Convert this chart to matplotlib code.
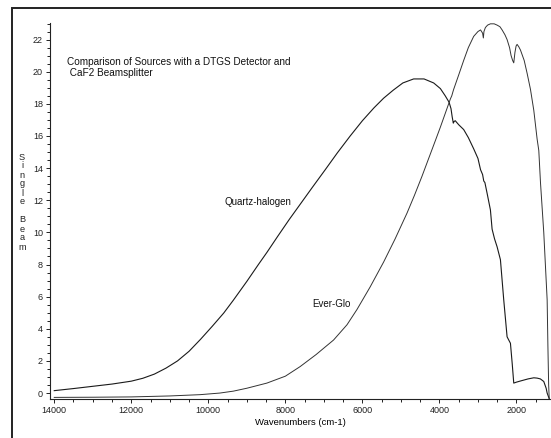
import numpy as np
import matplotlib
matplotlib.use('Agg')
import matplotlib.pyplot as plt
from matplotlib.patches import Rectangle
from matplotlib.ticker import MultipleLocator

plt.rcParams['font.family'] = ['Liberation Sans', 'DejaVu Sans']

# Quartz-halogen single beam (wavenumber, intensity)
qh_wn = [14000, 13500, 13000, 12500, 12000, 11700, 11400, 11100, 10800, 10500,
         10200, 9900, 9600, 9350, 9000, 8700, 8480, 8200, 7900, 7615,
         7300, 6965, 6650, 6317, 6000, 5700, 5450, 5200, 4950, 4670,
         4400, 4150, 3976, 3850, 3750, 3700, 3670, 3640, 3620, 3590,
         3500, 3371, 3250, 3111, 3000, 2933, 2880, 2850, 2820, 2760,
         2677, 2633, 2570, 2503, 2417, 2331, 2244, 2190, 2157, 2110,
         2071, 2000, 1898, 1700, 1550, 1464, 1380, 1292, 1230, 1204, 1150]
qh_sb = [0.15, 0.28, 0.42, 0.56, 0.74, 0.92, 1.18, 1.55, 2.0, 2.6,
         3.35, 4.15, 4.98, 5.78, 6.95, 8.0, 8.75, 9.75, 10.8, 11.75,
         12.8, 13.9, 14.95, 16.0, 16.95, 17.75, 18.35, 18.85, 19.3, 19.55,
         19.55, 19.3, 18.95, 18.5, 18.1, 17.7, 17.2, 16.8, 16.9, 16.95,
         16.7, 16.4, 15.9, 15.2, 14.6, 13.9, 13.6, 13.2, 13.1, 12.4,
         11.4, 10.2, 9.6, 9.1, 8.3, 5.8, 3.5, 3.25, 3.1, 1.8,
         0.62, 0.68, 0.75, 0.88, 0.95, 0.93, 0.88, 0.72, 0.3, 0.0, -0.35]

# Ever-Glo single beam
eg_wn = [14000, 13000, 12000, 11000, 10214, 9700, 9348, 9000, 8480, 8000,
         7615, 7200, 7000, 6749, 6400, 6141, 5800, 5450, 5150, 4842,
         4650, 4452, 4280, 4100, 3976, 3850, 3717, 3680, 3650, 3631,
         3500, 3371, 3250, 3111, 3000, 2933, 2880, 2860, 2845, 2807,
         2750, 2677, 2580, 2503, 2430, 2373, 2300, 2244, 2180, 2140,
         2100, 2071, 2040, 2010, 1984, 1940, 1897, 1800, 1724, 1637,
         1551, 1464, 1421, 1377, 1292, 1204, 1185, 1165, 1150]
eg_sb = [-0.27, -0.26, -0.24, -0.18, -0.1, 0.0, 0.12, 0.3, 0.62, 1.05,
         1.65, 2.4, 2.8, 3.3, 4.25, 5.2, 6.6, 8.15, 9.6, 11.2,
         12.3, 13.5, 14.6, 15.75, 16.55, 17.4, 18.3, 18.5, 18.75, 18.9,
         19.8, 20.7, 21.5, 22.2, 22.5, 22.6, 22.4, 22.1, 22.5, 22.75,
         22.9, 22.98, 22.98, 22.9, 22.8, 22.6, 22.3, 22.0, 21.5, 21.0,
         20.7, 20.55, 21.2, 21.6, 21.7, 21.55, 21.35, 20.7, 19.9, 18.9,
         17.6, 15.8, 15.1, 13.1, 10.0, 5.8, 3.0, 0.5, -0.35]

W, H = 551, 438
fig = plt.figure(figsize=(W / 100, H / 100), dpi=100)
fig.patch.set_facecolor('white')

# outer frame (runs off the right/bottom edge)
top = 1 - 8 / H
fig.patches.append(Rectangle((11.5 / W, -0.2), 1.2, top + 0.2,
                             transform=fig.transFigure, fill=False,
                             edgecolor='#222222', linewidth=1.4))

ax = fig.add_axes([50 / W, 1 - 399 / H, 500 / W, (399 - 22.7) / H])
ax.plot(qh_wn, qh_sb, color='#1a1a1a', lw=0.8)
ax.plot(eg_wn, eg_sb, color='#333333', lw=0.7)

ax.set_xlim(14110, 1130)
ax.set_ylim(-0.37, 23.05)

for s in ['top', 'right']:
    ax.spines[s].set_visible(False)
for s in ['left', 'bottom']:
    ax.spines[s].set_linewidth(0.8)
    ax.spines[s].set_color('#222222')

ax.xaxis.set_major_locator(MultipleLocator(2000))
ax.xaxis.set_minor_locator(MultipleLocator(500))
ax.yaxis.set_major_locator(MultipleLocator(2))
ax.yaxis.set_minor_locator(MultipleLocator(0.5))
ax.tick_params(axis='both', which='major', labelsize=6.5, length=3, width=0.7,
               direction='out', colors='#222222', pad=2)
ax.tick_params(axis='both', which='minor', length=2, width=0.7,
               direction='out', colors='#222222')
ax.set_xticks(range(14000, 1999, -2000))

ax.set_xlabel('Wavenumbers (cm-1)', fontsize=6.8, labelpad=2)

# vertical stacked y label
ylab = 'Single Beam'
for i, ch in enumerate(ylab):
    if ch == ' ':
        continue
    fig.text(22 / W, 1 - (157 + 9 * i) / H, ch, fontsize=6.6,
             ha='center', va='center', color='#222222')

fig.text(67 / W, 1 - 57 / H,
         'Comparison of Sources with a DTGS Detector and\n CaF2 Beamsplitter',
         fontsize=7.2, ha='left', va='top', color='#111111', linespacing=1.1)

ax.text(8700, 11.9, 'Quartz-halogen', fontsize=7, ha='center', va='center',
        color='#111111')
ax.text(6800, 5.55, 'Ever-Glo', fontsize=7, ha='center', va='center',
        color='#111111')

fig.savefig('out.png', dpi=100, facecolor='white')
